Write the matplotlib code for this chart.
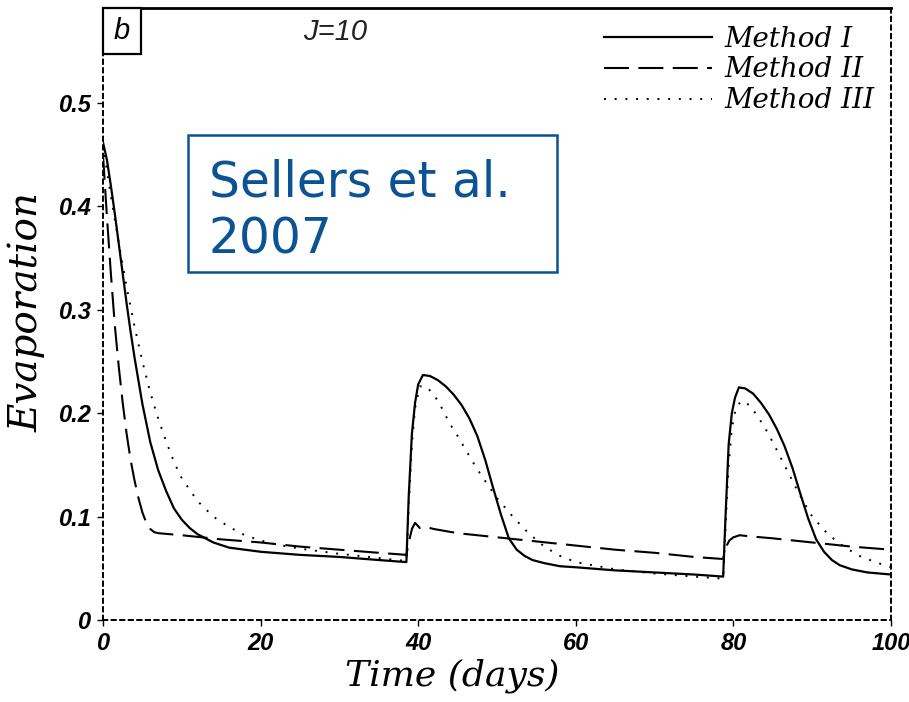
import matplotlib
matplotlib.use("Agg")
import matplotlib.pyplot as plt
from matplotlib import font_manager
from matplotlib.patches import Rectangle

# Evaporation time series for three soil-moisture methods (J=10)
t_method1 = [0, 0.5, 1, 1.5, 2, 2.5, 3, 3.5, 4, 5, 6, 7, 8, 9, 10, 11, 12, 13, 14, 16, 18, 20, 25, 30, 35, 38.5,
             38.8, 39.2, 39.6, 40, 40.6, 41.5, 42.5, 43.5, 44.5, 45.5, 46.5, 47.5, 48.5, 49.5, 50.5, 51.5, 52.5,
             53.5, 54.5, 56, 58, 60, 65, 70, 75, 78.7,
             79.0, 79.4, 79.8, 80.2, 80.7, 81.5, 82.5, 83.5, 84.5, 85.5, 86.5, 87.5, 88.5, 89.5, 90.5, 91.5,
             92.5, 93.5, 95, 97, 100]
e_method1 = [0.462, 0.445, 0.42, 0.393, 0.364, 0.335, 0.306, 0.279, 0.254, 0.209, 0.172, 0.145, 0.125, 0.108,
             0.097, 0.089, 0.083, 0.079, 0.075, 0.07, 0.068, 0.066, 0.063, 0.061, 0.058, 0.056,
             0.12, 0.18, 0.21, 0.228, 0.237, 0.236, 0.232, 0.226, 0.218, 0.208, 0.195, 0.178, 0.155, 0.128,
             0.102, 0.079, 0.068, 0.062, 0.058, 0.055, 0.052, 0.051, 0.048, 0.046, 0.044, 0.042,
             0.10, 0.17, 0.2, 0.215, 0.225, 0.224, 0.219, 0.21, 0.199, 0.185, 0.168, 0.147, 0.122, 0.098,
             0.078, 0.066, 0.058, 0.053, 0.049, 0.046, 0.044]

t_method2 = [0, 0.5, 1, 1.5, 2, 2.5, 3, 3.5, 4, 4.5, 5, 5.5, 6, 6.5, 7, 10, 15, 20, 25, 30, 35, 38.5,
             38.8, 39.2, 39.6, 40.2, 41, 42, 45, 50, 55, 60, 65, 70, 75, 78.7,
             79.0, 79.5, 80, 80.8, 82, 85, 90, 95, 100]
e_method2 = [0.45, 0.39, 0.335, 0.285, 0.245, 0.21, 0.18, 0.155, 0.135, 0.118, 0.104, 0.094, 0.088, 0.085,
             0.084, 0.082, 0.078, 0.075, 0.071, 0.068, 0.065, 0.063,
             0.075, 0.088, 0.094, 0.089, 0.09, 0.088, 0.084, 0.08, 0.076, 0.072, 0.068, 0.065, 0.061, 0.059,
             0.07, 0.077, 0.08, 0.082, 0.081, 0.079, 0.075, 0.071, 0.068]

t_method3 = [0, 1, 2, 3, 4, 5, 6, 7, 8, 9, 10, 12, 14, 16, 18, 20, 22, 25, 30, 35, 38.5,
             38.8, 39.2, 39.6, 40.2, 41, 42, 43, 44, 45, 46, 47, 48, 50, 52, 54, 56, 58, 60, 65, 70, 75, 78.7,
             79.0, 79.4, 79.8, 80.3, 81, 82, 83, 84, 85, 86, 87, 88, 89, 90, 92, 94, 96, 98, 100]
e_method3 = [0.46, 0.41, 0.365, 0.322, 0.284, 0.25, 0.22, 0.195, 0.173, 0.153, 0.137, 0.115, 0.1, 0.09,
             0.082, 0.077, 0.073, 0.069, 0.064, 0.06, 0.057,
             0.11, 0.17, 0.205, 0.226, 0.226, 0.218, 0.205, 0.19, 0.178, 0.165, 0.152, 0.14, 0.118, 0.1,
             0.084, 0.071, 0.062, 0.056, 0.049, 0.045, 0.042, 0.04,
             0.09, 0.15, 0.185, 0.205, 0.212, 0.208, 0.198, 0.186, 0.172, 0.157, 0.142, 0.127, 0.113, 0.1,
             0.083, 0.071, 0.062, 0.056, 0.051]

method_names = ["Method I", "Method II", "Method III"]
x_ticks = [0, 20, 40, 60, 80, 100]
x_ticklabels = ["0", "20", "40", "60", "80", "100"]
y_ticks = [0, 0.1, 0.2, 0.3, 0.4, 0.5]
y_ticklabels = ["0", "0.1", "0.2", "0.3", "0.4", "0.5"]


def available(name):
    try:
        font_manager.findfont(name, fallback_to_default=False)
        return True
    except Exception:
        return False


tick_family = "Liberation Sans Narrow" if available("Liberation Sans Narrow") else "Liberation Sans"
label_family = "DejaVu Serif"

fig = plt.figure(figsize=(9.09, 7.02), dpi=100)
ax = fig.add_axes([103 / 909, 82 / 702, 788 / 909, 612 / 702])

ax.plot(t_method1, e_method1, color="black", lw=1.6, ls="-", label=method_names[0])
ax.plot(t_method2, e_method2, color="black", lw=1.5, dashes=(12, 4.5), label=method_names[1])
ax.plot(t_method3, e_method3, color="black", lw=1.4, dashes=(1, 4.5), label=method_names[2])

ax.set_xlim(0, 100)
ax.set_ylim(0, 0.592)

# frame: solid top, dotted elsewhere
for side in ["left", "right", "bottom"]:
    ax.spines[side].set_linestyle((0, (2.2, 2.2)))
    ax.spines[side].set_linewidth(1.4)
ax.spines["top"].set_linewidth(2.0)

ax.set_xticks(x_ticks)
ax.set_xticklabels(x_ticklabels)
ax.set_yticks(y_ticks)
ax.set_yticklabels(y_ticklabels)
ax.tick_params(direction="out", length=4, width=1.0, pad=5)
for lab in ax.get_xticklabels() + ax.get_yticklabels():
    lab.set_fontfamily(tick_family)
    lab.set_fontweight("bold")
    lab.set_fontstyle("italic")
    lab.set_fontsize(17)

ax.set_xlabel("Time (days)", fontfamily=label_family, fontstyle="italic", fontsize=26)
ax.xaxis.set_label_coords(0.443, -0.062)
ax.set_ylabel("Evaporation", fontfamily=label_family, fontstyle="italic", fontsize=28)
ax.yaxis.set_label_coords(-0.073, 0.503)

leg = ax.legend(loc="upper right", bbox_to_anchor=(1.004, 1.003), frameon=False, handlelength=3.9,
                handletextpad=0.45, labelspacing=0.14, borderaxespad=0.3,
                prop={"family": label_family, "style": "italic", "size": 20})

ax.text(0.295, 0.96, "J=10", transform=ax.transAxes, ha="center", va="center",
        fontfamily="Liberation Sans", fontstyle="italic", fontsize=21, color="#222222")

# panel tag in the corner
ax.add_patch(Rectangle((0, 1 - 46 / 612), 38 / 788, 46 / 612, transform=ax.transAxes,
                       facecolor="white", edgecolor="black", lw=1.6, clip_on=False, zorder=5))
ax.text(19 / 788, 1 - 23 / 612, "b", transform=ax.transAxes, ha="center", va="center",
        fontfamily="Liberation Sans", fontstyle="italic", fontsize=21, zorder=6)

# citation box
fig.patches.append(Rectangle((188 / 909, 1 - 272 / 702), 369 / 909, 137 / 702, transform=fig.transFigure,
                             facecolor="white", edgecolor="#0b5394", lw=1.8, zorder=10))
fig.text(209 / 909, 1 - 196 / 702, "Sellers et al.", color="#0b5394", fontfamily="DejaVu Sans",
         fontsize=35, ha="left", va="baseline", zorder=11)
fig.text(209 / 909, 1 - 253 / 702, "2007", color="#0b5394", fontfamily="DejaVu Sans",
         fontsize=35, ha="left", va="baseline", zorder=11)

fig.savefig("out.png", dpi=100)
